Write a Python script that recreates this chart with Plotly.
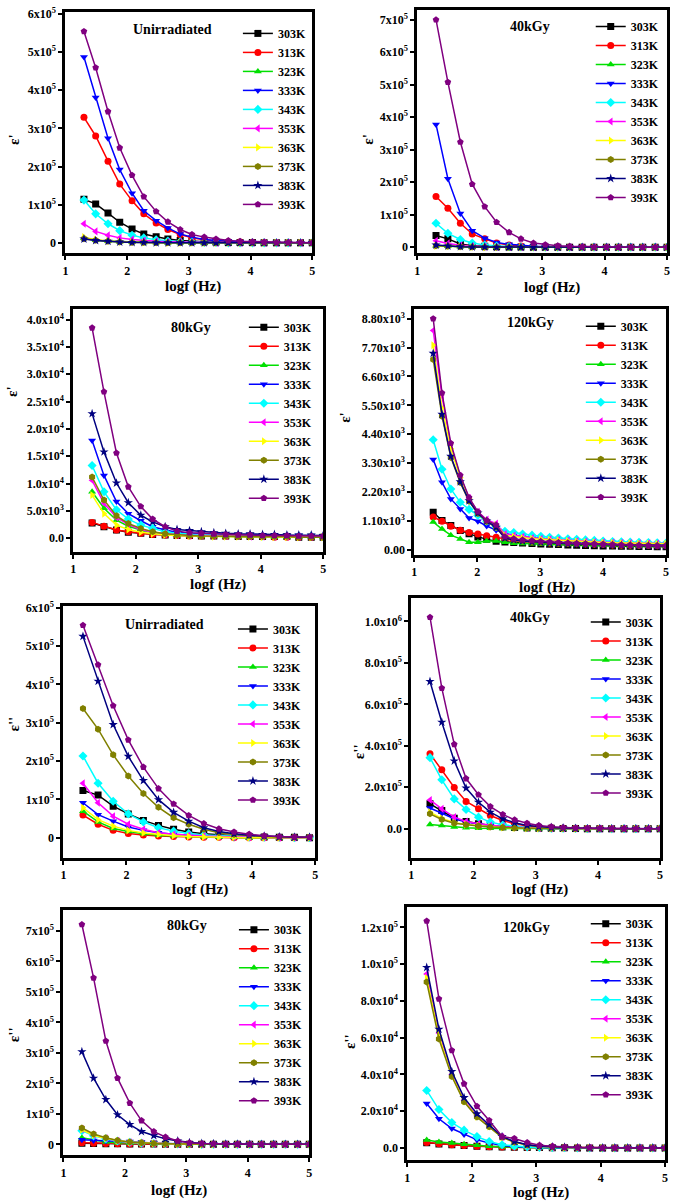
import plotly.graph_objects as go

W, H = 675, 1202
FONT = "Liberation Serif"

TEMPS = ["303K", "313K", "323K", "333K", "343K", "353K", "363K", "373K", "383K", "393K"]
COLORS = ["#000000", "#FF0000", "#00E000", "#0000FF", "#00FFFF", "#FF00FF",
          "#FFFF00", "#808000", "#000080", "#800080"]
SYMBOLS = ["square", "circle", "triangle-up", "triangle-down", "diamond",
           "triangle-left", "triangle-right", "hexagon", "star", "pentagon"]

# log f grids (Hz, log10)
logf_20 = [1.30, 1.49, 1.69, 1.88, 2.08, 2.27, 2.47, 2.66, 2.86, 3.05,
           3.25, 3.44, 3.64, 3.83, 4.03, 4.22, 4.42, 4.61, 4.81, 5.00]
logf_27 = [1.30, 1.44, 1.58, 1.73, 1.87, 2.01, 2.15, 2.30, 2.44, 2.58,
           2.72, 2.87, 3.01, 3.15, 3.29, 3.44, 3.58, 3.72, 3.86, 4.00,
           4.15, 4.29, 4.43, 4.57, 4.72, 4.86, 5.00]
logf_16 = [1.31, 1.55, 1.79, 2.03, 2.27, 2.51, 2.75, 2.99, 3.23, 3.47,
           3.71, 3.95, 4.19, 4.43, 4.67, 4.91]

# ---- epsilon' unirradiated (x 1e5) ----
eps1_unirr = [
    [1.14, 1.02, 0.78, 0.54, 0.36, 0.23, 0.16, 0.10, 0.06, 0.04, 0.03, 0.02, 0.01, 0.01, 0.01, 0.00, 0.00, 0.00, 0.00, 0.00],
    [3.29, 2.80, 2.14, 1.54, 1.10, 0.76, 0.52, 0.35, 0.22, 0.13, 0.08, 0.05, 0.03, 0.02, 0.01, 0.01, 0.00, 0.00, 0.00, 0.00],
    [0.12, 0.07, 0.04, 0.03, 0.02, 0.01, 0.01, 0.00, 0.00, 0.00, 0.00, 0.00, 0.00, 0.00, 0.00, 0.00, 0.00, 0.00, 0.00, 0.00],
    [4.87, 3.81, 2.74, 1.92, 1.30, 0.84, 0.58, 0.39, 0.23, 0.15, 0.09, 0.06, 0.04, 0.03, 0.02, 0.01, 0.01, 0.00, 0.00, 0.00],
    [1.12, 0.76, 0.50, 0.32, 0.20, 0.13, 0.08, 0.05, 0.03, 0.02, 0.01, 0.01, 0.00, 0.00, 0.00, 0.00, 0.00, 0.00, 0.00, 0.00],
    [0.50, 0.30, 0.20, 0.13, 0.09, 0.06, 0.04, 0.03, 0.02, 0.01, 0.01, 0.00, 0.00, 0.00, 0.00, 0.00, 0.00, 0.00, 0.00, 0.00],
    [0.15, 0.08, 0.05, 0.03, 0.02, 0.01, 0.01, 0.00, 0.00, 0.00, 0.00, 0.00, 0.00, 0.00, 0.00, 0.00, 0.00, 0.00, 0.00, 0.00],
    [0.11, 0.07, 0.04, 0.02, 0.01, 0.01, 0.00, 0.00, 0.00, 0.00, 0.00, 0.00, 0.00, 0.00, 0.00, 0.00, 0.00, 0.00, 0.00, 0.00],
    [0.10, 0.06, 0.04, 0.02, 0.01, 0.01, 0.00, 0.00, 0.00, 0.00, 0.00, 0.00, 0.00, 0.00, 0.00, 0.00, 0.00, 0.00, 0.00, 0.00],
    [5.54, 4.59, 3.44, 2.49, 1.77, 1.21, 0.82, 0.55, 0.35, 0.22, 0.15, 0.10, 0.06, 0.04, 0.03, 0.02, 0.01, 0.01, 0.01, 0.00],
]
# ---- epsilon' 40 kGy (x 1e5) ----
eps1_40 = [
    [0.36, 0.26, 0.10, 0.05, 0.03, 0.02, 0.01, 0.01, 0.00, 0.00, 0.00, 0.00, 0.00, 0.00, 0.00, 0.00, 0.00, 0.00, 0.00, 0.00],
    [1.56, 1.20, 0.74, 0.41, 0.26, 0.13, 0.07, 0.04, 0.02, 0.01, 0.01, 0.00, 0.00, 0.00, 0.00, 0.00, 0.00, 0.00, 0.00, 0.00],
    [0.05, 0.03, 0.02, 0.01, 0.01, 0.00, 0.00, 0.00, 0.00, 0.00, 0.00, 0.00, 0.00, 0.00, 0.00, 0.00, 0.00, 0.00, 0.00, 0.00],
    [3.78, 2.11, 1.04, 0.51, 0.28, 0.15, 0.09, 0.05, 0.03, 0.02, 0.01, 0.01, 0.00, 0.00, 0.00, 0.00, 0.00, 0.00, 0.00, 0.00],
    [0.74, 0.43, 0.24, 0.13, 0.07, 0.04, 0.02, 0.01, 0.01, 0.00, 0.00, 0.00, 0.00, 0.00, 0.00, 0.00, 0.00, 0.00, 0.00, 0.00],
    [0.20, 0.12, 0.06, 0.03, 0.02, 0.01, 0.01, 0.00, 0.00, 0.00, 0.00, 0.00, 0.00, 0.00, 0.00, 0.00, 0.00, 0.00, 0.00, 0.00],
    [0.04, 0.03, 0.02, 0.01, 0.00, 0.00, 0.00, 0.00, 0.00, 0.00, 0.00, 0.00, 0.00, 0.00, 0.00, 0.00, 0.00, 0.00, 0.00, 0.00],
    [0.05, 0.03, 0.02, 0.01, 0.00, 0.00, 0.00, 0.00, 0.00, 0.00, 0.00, 0.00, 0.00, 0.00, 0.00, 0.00, 0.00, 0.00, 0.00, 0.00],
    [0.07, 0.04, 0.02, 0.01, 0.01, 0.00, 0.00, 0.00, 0.00, 0.00, 0.00, 0.00, 0.00, 0.00, 0.00, 0.00, 0.00, 0.00, 0.00, 0.00],
    [7.00, 5.08, 3.24, 1.94, 1.25, 0.77, 0.46, 0.26, 0.13, 0.08, 0.05, 0.03, 0.02, 0.01, 0.01, 0.00, 0.00, 0.00, 0.00, 0.00],
]
# ---- epsilon' 80 kGy (x 1e4) ----
eps1_80 = [
    [0.28, 0.21, 0.15, 0.11, 0.09, 0.07, 0.06, 0.05, 0.05, 0.04, 0.04, 0.04, 0.03, 0.03, 0.03, 0.03, 0.03, 0.02, 0.02, 0.02],
    [0.29, 0.22, 0.15, 0.12, 0.09, 0.07, 0.06, 0.05, 0.04, 0.04, 0.04, 0.03, 0.03, 0.03, 0.03, 0.02, 0.02, 0.02, 0.02, 0.02],
    [0.85, 0.55, 0.33, 0.22, 0.15, 0.10, 0.07, 0.06, 0.05, 0.04, 0.04, 0.03, 0.03, 0.03, 0.03, 0.02, 0.02, 0.02, 0.02, 0.02],
    [1.79, 1.15, 0.67, 0.45, 0.32, 0.21, 0.15, 0.11, 0.09, 0.08, 0.07, 0.07, 0.06, 0.06, 0.05, 0.05, 0.05, 0.05, 0.04, 0.04],
    [1.33, 0.85, 0.52, 0.35, 0.24, 0.18, 0.12, 0.09, 0.07, 0.06, 0.06, 0.05, 0.05, 0.05, 0.04, 0.04, 0.04, 0.04, 0.04, 0.03],
    [1.06, 0.64, 0.38, 0.25, 0.16, 0.11, 0.08, 0.06, 0.05, 0.05, 0.04, 0.04, 0.04, 0.03, 0.03, 0.03, 0.03, 0.03, 0.03, 0.02],
    [0.79, 0.45, 0.24, 0.16, 0.11, 0.08, 0.06, 0.05, 0.04, 0.04, 0.03, 0.03, 0.03, 0.03, 0.02, 0.02, 0.02, 0.02, 0.02, 0.02],
    [1.12, 0.70, 0.41, 0.27, 0.18, 0.12, 0.08, 0.06, 0.05, 0.04, 0.04, 0.04, 0.03, 0.03, 0.03, 0.03, 0.03, 0.02, 0.02, 0.02],
    [2.28, 1.58, 1.01, 0.65, 0.42, 0.30, 0.21, 0.16, 0.14, 0.12, 0.10, 0.09, 0.08, 0.08, 0.07, 0.07, 0.06, 0.06, 0.06, 0.05],
    [3.85, 2.68, 1.56, 0.94, 0.58, 0.35, 0.21, 0.13, 0.10, 0.09, 0.08, 0.07, 0.06, 0.06, 0.05, 0.05, 0.05, 0.04, 0.04, 0.04],
]
# ---- epsilon' 120 kGy (x 1e3) ----
eps1_120 = [
    [1.43, 1.12, 0.93, 0.74, 0.61, 0.49, 0.40, 0.33, 0.30, 0.28, 0.26, 0.24, 0.22, 0.21, 0.20, 0.19, 0.18, 0.17, 0.16, 0.15, 0.15, 0.14, 0.14, 0.13, 0.13, 0.12, 0.12],
    [1.25, 1.09, 0.90, 0.75, 0.66, 0.60, 0.54, 0.48, 0.41, 0.36, 0.33, 0.30, 0.28, 0.26, 0.25, 0.24, 0.23, 0.22, 0.21, 0.20, 0.19, 0.18, 0.18, 0.17, 0.17, 0.16, 0.16],
    [1.06, 0.79, 0.56, 0.41, 0.29, 0.29, 0.34, 0.34, 0.29, 0.25, 0.24, 0.23, 0.22, 0.21, 0.20, 0.20, 0.19, 0.19, 0.18, 0.18, 0.17, 0.17, 0.16, 0.16, 0.15, 0.15, 0.15],
    [3.44, 2.57, 1.94, 1.56, 1.21, 1.09, 0.91, 0.75, 0.63, 0.55, 0.50, 0.46, 0.42, 0.39, 0.36, 0.34, 0.32, 0.30, 0.28, 0.27, 0.26, 0.25, 0.24, 0.23, 0.22, 0.21, 0.20],
    [4.19, 3.07, 2.32, 1.81, 1.54, 1.31, 1.09, 0.88, 0.71, 0.66, 0.60, 0.56, 0.52, 0.48, 0.45, 0.42, 0.40, 0.38, 0.36, 0.34, 0.32, 0.31, 0.30, 0.29, 0.28, 0.27, 0.26],
    [8.35, 5.85, 3.98, 2.80, 1.97, 1.45, 1.15, 1.00, 0.60, 0.55, 0.50, 0.45, 0.42, 0.40, 0.38, 0.36, 0.34, 0.32, 0.30, 0.29, 0.28, 0.27, 0.26, 0.25, 0.25, 0.24, 0.24],
    [7.79, 5.40, 3.85, 2.75, 1.95, 1.42, 1.10, 0.95, 0.55, 0.50, 0.45, 0.42, 0.40, 0.38, 0.36, 0.34, 0.32, 0.30, 0.29, 0.28, 0.27, 0.26, 0.25, 0.24, 0.24, 0.23, 0.23],
    [7.25, 5.09, 3.52, 2.56, 1.85, 1.38, 1.08, 0.85, 0.45, 0.38, 0.34, 0.31, 0.29, 0.27, 0.25, 0.24, 0.23, 0.22, 0.21, 0.20, 0.19, 0.18, 0.18, 0.17, 0.17, 0.16, 0.16],
    [7.48, 5.16, 3.56, 2.59, 1.87, 1.40, 1.10, 0.86, 0.45, 0.38, 0.34, 0.31, 0.29, 0.27, 0.25, 0.23, 0.22, 0.21, 0.20, 0.19, 0.18, 0.17, 0.17, 0.16, 0.16, 0.15, 0.15],
    [8.80, 5.97, 4.06, 2.84, 1.99, 1.45, 1.12, 0.95, 0.50, 0.42, 0.38, 0.35, 0.32, 0.30, 0.28, 0.26, 0.24, 0.23, 0.22, 0.21, 0.20, 0.19, 0.18, 0.17, 0.16, 0.15, 0.15],
]
# ---- epsilon'' unirradiated (x 1e5) ----
eps2_unirr = [
    [1.23, 1.11, 0.82, 0.62, 0.45, 0.32, 0.22, 0.15, 0.10, 0.07, 0.05, 0.03, 0.02, 0.01, 0.01, 0.00],
    [0.59, 0.35, 0.19, 0.11, 0.07, 0.04, 0.03, 0.02, 0.01, 0.01, 0.00, 0.00, 0.00, 0.00, 0.00, 0.00],
    [0.69, 0.41, 0.24, 0.16, 0.10, 0.06, 0.04, 0.03, 0.02, 0.01, 0.01, 0.00, 0.00, 0.00, 0.00, 0.00],
    [0.91, 0.60, 0.43, 0.28, 0.19, 0.13, 0.09, 0.06, 0.04, 0.03, 0.02, 0.01, 0.01, 0.00, 0.00, 0.00],
    [2.13, 1.42, 0.95, 0.62, 0.41, 0.26, 0.17, 0.11, 0.07, 0.05, 0.03, 0.02, 0.01, 0.01, 0.00, 0.00],
    [1.42, 0.91, 0.56, 0.35, 0.22, 0.13, 0.09, 0.06, 0.04, 0.03, 0.02, 0.01, 0.01, 0.00, 0.00, 0.00],
    [0.78, 0.47, 0.30, 0.19, 0.12, 0.08, 0.05, 0.03, 0.02, 0.01, 0.01, 0.00, 0.00, 0.00, 0.00, 0.00],
    [3.37, 2.83, 2.16, 1.61, 1.15, 0.79, 0.52, 0.35, 0.22, 0.13, 0.08, 0.05, 0.03, 0.02, 0.01, 0.01],
    [5.25, 4.08, 2.95, 2.12, 1.49, 0.99, 0.66, 0.43, 0.26, 0.16, 0.10, 0.06, 0.04, 0.02, 0.01, 0.01],
    [5.54, 4.51, 3.44, 2.55, 1.84, 1.28, 0.88, 0.58, 0.37, 0.23, 0.15, 0.09, 0.05, 0.03, 0.02, 0.01],
]
# ---- epsilon'' 40 kGy (x 1e5) ----
eps2_40 = [
    [1.20, 0.88, 0.51, 0.35, 0.24, 0.16, 0.10, 0.06, 0.04, 0.03, 0.02, 0.01, 0.01, 0.00, 0.00, 0.00, 0.00, 0.00, 0.00, 0.00],
    [3.62, 2.84, 1.99, 1.32, 0.96, 0.64, 0.40, 0.24, 0.13, 0.08, 0.05, 0.03, 0.02, 0.01, 0.01, 0.00, 0.00, 0.00, 0.00, 0.00],
    [0.21, 0.16, 0.08, 0.05, 0.03, 0.02, 0.01, 0.01, 0.00, 0.00, 0.00, 0.00, 0.00, 0.00, 0.00, 0.00, 0.00, 0.00, 0.00, 0.00],
    [1.00, 0.75, 0.48, 0.32, 0.21, 0.14, 0.09, 0.06, 0.04, 0.02, 0.01, 0.01, 0.00, 0.00, 0.00, 0.00, 0.00, 0.00, 0.00, 0.00],
    [3.43, 2.36, 1.44, 0.93, 0.56, 0.32, 0.19, 0.11, 0.06, 0.04, 0.02, 0.01, 0.01, 0.00, 0.00, 0.00, 0.00, 0.00, 0.00, 0.00],
    [1.39, 0.96, 0.56, 0.35, 0.24, 0.16, 0.11, 0.07, 0.05, 0.03, 0.02, 0.01, 0.01, 0.00, 0.00, 0.00, 0.00, 0.00, 0.00, 0.00],
    [0.80, 0.50, 0.30, 0.20, 0.14, 0.09, 0.06, 0.04, 0.03, 0.02, 0.01, 0.01, 0.00, 0.00, 0.00, 0.00, 0.00, 0.00, 0.00, 0.00],
    [0.72, 0.45, 0.27, 0.19, 0.13, 0.09, 0.06, 0.04, 0.03, 0.02, 0.01, 0.01, 0.00, 0.00, 0.00, 0.00, 0.00, 0.00, 0.00, 0.00],
    [7.10, 5.14, 3.27, 1.96, 1.28, 0.80, 0.48, 0.29, 0.16, 0.10, 0.06, 0.04, 0.02, 0.01, 0.01, 0.00, 0.00, 0.00, 0.00, 0.00],
    [10.2, 6.78, 4.07, 2.42, 1.64, 1.07, 0.69, 0.43, 0.27, 0.16, 0.10, 0.06, 0.04, 0.03, 0.02, 0.01, 0.01, 0.00, 0.00, 0.00],
]
# ---- epsilon'' 80 kGy (x 1e5) ----
eps2_80 = [
    [0.04, 0.03, 0.02, 0.02, 0.01, 0.01, 0.01, 0.00, 0.00, 0.00, 0.00, 0.00, 0.00, 0.00, 0.00, 0.00, 0.00, 0.00, 0.00, 0.00],
    [0.05, 0.04, 0.03, 0.02, 0.01, 0.01, 0.01, 0.00, 0.00, 0.00, 0.00, 0.00, 0.00, 0.00, 0.00, 0.00, 0.00, 0.00, 0.00, 0.00],
    [0.22, 0.16, 0.08, 0.05, 0.04, 0.03, 0.02, 0.01, 0.01, 0.00, 0.00, 0.00, 0.00, 0.00, 0.00, 0.00, 0.00, 0.00, 0.00, 0.00],
    [0.15, 0.13, 0.11, 0.10, 0.09, 0.07, 0.05, 0.03, 0.02, 0.01, 0.01, 0.00, 0.00, 0.00, 0.00, 0.00, 0.00, 0.00, 0.00, 0.00],
    [0.45, 0.28, 0.18, 0.11, 0.07, 0.04, 0.03, 0.02, 0.01, 0.01, 0.00, 0.00, 0.00, 0.00, 0.00, 0.00, 0.00, 0.00, 0.00, 0.00],
    [0.50, 0.31, 0.20, 0.12, 0.07, 0.05, 0.03, 0.02, 0.01, 0.01, 0.00, 0.00, 0.00, 0.00, 0.00, 0.00, 0.00, 0.00, 0.00, 0.00],
    [0.48, 0.30, 0.19, 0.12, 0.07, 0.05, 0.03, 0.02, 0.01, 0.01, 0.00, 0.00, 0.00, 0.00, 0.00, 0.00, 0.00, 0.00, 0.00, 0.00],
    [0.54, 0.34, 0.22, 0.13, 0.08, 0.05, 0.03, 0.02, 0.01, 0.01, 0.00, 0.00, 0.00, 0.00, 0.00, 0.00, 0.00, 0.00, 0.00, 0.00],
    [3.04, 2.17, 1.47, 0.97, 0.65, 0.42, 0.29, 0.18, 0.11, 0.06, 0.03, 0.02, 0.01, 0.01, 0.00, 0.00, 0.00, 0.00, 0.00, 0.00],
    [7.21, 5.46, 3.39, 2.17, 1.35, 0.78, 0.42, 0.24, 0.11, 0.05, 0.03, 0.02, 0.01, 0.01, 0.00, 0.00, 0.00, 0.00, 0.00, 0.00],
]
# ---- epsilon'' 120 kGy (x 1e4) ----
eps2_120 = [
    [0.28, 0.22, 0.17, 0.13, 0.10, 0.07, 0.05, 0.04, 0.03, 0.02, 0.01, 0.01, 0.00, 0.00, 0.00, 0.00, 0.00, 0.00, 0.00, 0.00],
    [0.30, 0.23, 0.18, 0.14, 0.10, 0.07, 0.05, 0.04, 0.03, 0.02, 0.01, 0.01, 0.00, 0.00, 0.00, 0.00, 0.00, 0.00, 0.00, 0.00],
    [0.44, 0.32, 0.27, 0.21, 0.15, 0.10, 0.07, 0.04, 0.02, 0.01, 0.01, 0.00, 0.00, 0.00, 0.00, 0.00, 0.00, 0.00, 0.00, 0.00],
    [2.42, 1.59, 1.06, 0.74, 0.44, 0.27, 0.13, 0.07, 0.04, 0.02, 0.01, 0.01, 0.00, 0.00, 0.00, 0.00, 0.00, 0.00, 0.00, 0.00],
    [3.13, 2.09, 1.38, 0.97, 0.62, 0.35, 0.18, 0.10, 0.05, 0.03, 0.02, 0.01, 0.00, 0.00, 0.00, 0.00, 0.00, 0.00, 0.00, 0.00],
    [9.47, 6.25, 4.00, 2.60, 1.75, 1.20, 0.60, 0.33, 0.17, 0.09, 0.05, 0.03, 0.02, 0.01, 0.00, 0.00, 0.00, 0.00, 0.00, 0.00],
    [9.24, 6.10, 3.95, 2.55, 1.70, 1.17, 0.58, 0.32, 0.16, 0.09, 0.05, 0.03, 0.02, 0.01, 0.00, 0.00, 0.00, 0.00, 0.00, 0.00],
    [9.03, 5.93, 3.89, 2.51, 1.68, 1.15, 0.58, 0.32, 0.16, 0.09, 0.05, 0.03, 0.02, 0.01, 0.00, 0.00, 0.00, 0.00, 0.00, 0.00],
    [9.82, 6.46, 4.16, 2.74, 1.86, 1.27, 0.62, 0.35, 0.18, 0.10, 0.06, 0.04, 0.02, 0.01, 0.00, 0.00, 0.00, 0.00, 0.00, 0.00],
    [12.35, 8.11, 5.31, 3.49, 2.27, 1.50, 0.62, 0.52, 0.30, 0.15, 0.09, 0.05, 0.03, 0.02, 0.01, 0.01, 0.00, 0.00, 0.00, 0.00],
]

# y tick labels per panel
yt_6e5 = ["0", "1x10<sup>5</sup>", "2x10<sup>5</sup>", "3x10<sup>5</sup>", "4x10<sup>5</sup>", "5x10<sup>5</sup>", "6x10<sup>5</sup>"]
yt_7e5 = yt_6e5 + ["7x10<sup>5</sup>"]
yt_4e4 = ["0.0", "5.0x10<sup>3</sup>", "1.0x10<sup>4</sup>", "1.5x10<sup>4</sup>", "2.0x10<sup>4</sup>",
          "2.5x10<sup>4</sup>", "3.0x10<sup>4</sup>", "3.5x10<sup>4</sup>", "4.0x10<sup>4</sup>"]
yt_88e3 = ["0.00", "1.10x10<sup>3</sup>", "2.20x10<sup>3</sup>", "3.30x10<sup>3</sup>", "4.40x10<sup>3</sup>",
           "5.50x10<sup>3</sup>", "6.60x10<sup>3</sup>", "7.70x10<sup>3</sup>", "8.80x10<sup>3</sup>"]
yt_1e6 = ["0.0", "2.0x10<sup>5</sup>", "4.0x10<sup>5</sup>", "6.0x10<sup>5</sup>", "8.0x10<sup>5</sup>", "1.0x10<sup>6</sup>"]
yt_12e4 = ["0.0", "2.0x10<sup>4</sup>", "4.0x10<sup>4</sup>", "6.0x10<sup>4</sup>", "8.0x10<sup>4</sup>",
           "1.0x10<sup>5</sup>", "1.2x10<sup>5</sup>"]

# panel layout (pixel boxes: left, right, top, bottom) and text anchors
panels = [
    dict(x=logf_20, ys=eps1_unirr, scale=1e5, tv=[0, 1, 2, 3, 4, 5, 6], tt=yt_6e5, yr=[-0.27, 6.05],
         box=(63, 312, 5, 248), label="Unirradiated", lab=(171, 23), leg=(237, 12),
         ytitle="ε'", ytpos=(11, 133), xtpos=(192, 282)),
    dict(x=logf_20, ys=eps1_40, scale=1e5, tv=[0, 1, 2, 3, 4, 5, 6, 7], tt=yt_7e5, yr=[-0.18, 7.3],
         box=(418, 670, 3, 248), label="40kGy", lab=(532, 20), leg=(593, 5),
         ytitle="ε'", ytpos=(368, 133), xtpos=(554, 283)),
    dict(x=logf_20, ys=eps1_80, scale=1e4, tv=[0, 0.5, 1, 1.5, 2, 2.5, 3, 3.5, 4], tt=yt_4e4, yr=[-0.25, 4.2],
         box=(71, 323, 304, 549), label="80kGy", lab=(190, 323), leg=(243, 308),
         ytitle="ε'", ytpos=(9, 387), xtpos=(217, 582)),
    dict(x=logf_27, ys=eps1_120, scale=1e3, tv=[0, 1.1, 2.2, 3.3, 4.4, 5.5, 6.6, 7.7, 8.8], tt=yt_88e3, yr=[-0.19, 9.18],
         box=(415, 669, 304, 552), label="120kGy", lab=(532, 318), leg=(583, 307),
         ytitle="ε'", ytpos=(345, 413), xtpos=(549, 585)),
    dict(x=logf_16, ys=eps2_unirr, scale=1e5, tv=[0, 1, 2, 3, 4, 5, 6], tt=yt_6e5, yr=[-0.52, 6.03],
         box=(61, 315, 604, 857), label="Unirradiated", lab=(163, 622), leg=(232, 612),
         ytitle="ε''", ytpos=(11, 722), xtpos=(199, 889)),
    dict(x=logf_20, ys=eps2_40, scale=1e5, tv=[0, 2, 4, 6, 8, 10], tt=yt_1e6, yr=[-1.39, 11.15],
         box=(412, 663, 595, 857), label="40kGy", lab=(532, 615), leg=(588, 605),
         ytitle="ε''", ytpos=(360, 750), xtpos=(542, 889)),
    dict(x=logf_20, ys=eps2_80, scale=1e5, tv=[0, 1, 2, 3, 4, 5, 6, 7], tt=yt_7e5, yr=[-0.36, 7.68],
         box=(61, 309, 910, 1157), label="80kGy", lab=(186, 925), leg=(233, 915),
         ytitle="ε''", ytpos=(11, 1035), xtpos=(178, 1192)),
    dict(x=logf_20, ys=eps2_120, scale=1e4, tv=[0, 2, 4, 6, 8, 10, 12], tt=yt_12e4, yr=[-0.67, 13.1],
         box=(408, 668, 907, 1162), label="120kGy", lab=(528, 927), leg=(588, 909),
         ytitle="ε''", ytpos=(350, 1042), xtpos=(543, 1194)),
]


def px_x(v):
    return v / W


def px_y(v):
    return 1 - v / H


fig = go.Figure()
layout = dict(
    width=W, height=H, margin=dict(l=0, r=0, t=0, b=0),
    paper_bgcolor="white", plot_bgcolor="white",
    font=dict(family=FONT, color="black", size=12),
    annotations=[],
)

for i, p in enumerate(panels):
    n = i + 1
    xa = "x" if n == 1 else f"x{n}"
    ya = "y" if n == 1 else f"y{n}"
    legname = "legend" if n == 1 else f"legend{n}"
    left, right, top, bottom = p["box"]
    for k, t in enumerate(TEMPS):
        yvals = [v * p["scale"] for v in p["ys"][k]]
        fig.add_trace(go.Scatter(
            x=p["x"], y=yvals, name=t, mode="lines+markers",
            xaxis=xa, yaxis=ya, legend=legname,
            line=dict(color=COLORS[k], width=1.5),
            marker=dict(symbol=SYMBOLS[k], size=7, color=COLORS[k],
                        line=dict(width=0)),
        ))
    axis_common = dict(showgrid=False, zeroline=False, showline=True, linecolor="black",
                       linewidth=3, mirror=True, ticks="outside", ticklen=4, tickwidth=2,
                       tickcolor="black", ticklabeloverflow="allow",
                       tickfont=dict(family=FONT, size=12, color="black", weight="bold"))
    layout[f"xaxis{'' if n == 1 else n}"] = dict(
        axis_common, domain=[px_x(left), px_x(right)], range=[1, 5],
        tickvals=[1, 2, 3, 4, 5], anchor=ya,
    )
    layout[f"yaxis{'' if n == 1 else n}"] = dict(
        axis_common, domain=[px_y(bottom), px_y(top)],
        range=[p["yr"][0] * p["scale"], p["yr"][1] * p["scale"]],
        tickmode="array", tickvals=[v * p["scale"] for v in p["tv"]], ticktext=p["tt"],
        anchor=xa,
    )
    layout[legname] = dict(
        x=px_x(p["leg"][0]), y=px_y(p["leg"][1]), xanchor="left", yanchor="top",
        bgcolor="rgba(0,0,0,0)", borderwidth=0, itemwidth=30, tracegroupgap=0,
        font=dict(family=FONT, size=12, color="black", weight="bold"),
    )
    layout["annotations"].append(dict(
        text=p["label"], x=px_x(p["lab"][0]), y=px_y(p["lab"][1]),
        xref="paper", yref="paper", showarrow=False, xanchor="center", yanchor="middle",
        font=dict(family=FONT, size=14, color="black", weight="bold"),
    ))
    # axis titles
    layout["annotations"].append(dict(
        text="logf (Hz)", x=px_x(p["xtpos"][0]), y=px_y(p["xtpos"][1]),
        xref="paper", yref="paper", showarrow=False, xanchor="center", yanchor="middle",
        font=dict(family=FONT, size=15, color="black", weight="bold"),
    ))
    layout["annotations"].append(dict(
        text=p["ytitle"], x=px_x(p["ytpos"][0]), y=px_y(p["ytpos"][1]), textangle=-90,
        xref="paper", yref="paper", showarrow=False, xanchor="center", yanchor="middle",
        font=dict(family=FONT, size=15, color="black", weight="bold"),
    ))

fig.update_layout(**layout)
fig.write_html(
    "out.html",
    config={"displayModeBar": False},
    post_script="document.body.style.margin='0';document.body.style.overflow='hidden';",
)
